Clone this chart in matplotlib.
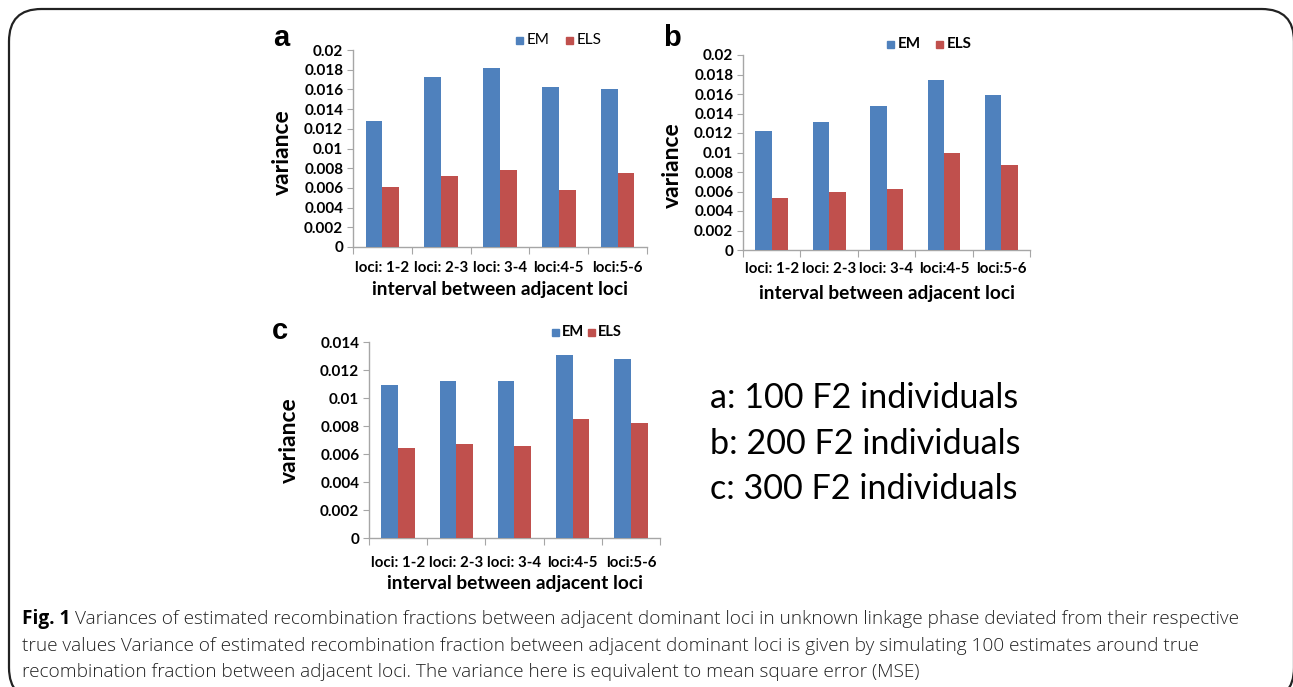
import matplotlib
matplotlib.use("Agg")
import matplotlib.pyplot as plt
import numpy as np
from matplotlib.patches import FancyBboxPatch

categories = ["loci: 1-2", "loci: 2-3", "loci: 3-4", "loci:4-5", "loci:5-6"]
em_a = [0.0128, 0.0173, 0.0182, 0.0162, 0.0160]
els_a = [0.0061, 0.0072, 0.0078, 0.0058, 0.0075]
em_b = [0.0122, 0.0131, 0.0148, 0.0174, 0.0159]
els_b = [0.0053, 0.0059, 0.0063, 0.0100, 0.0087]
em_c = [0.0109, 0.0112, 0.0112, 0.0131, 0.0128]
els_c = [0.0064, 0.0067, 0.0066, 0.0085, 0.0082]
yticks_ab = [0, 0.002, 0.004, 0.006, 0.008, 0.01, 0.012, 0.014, 0.016, 0.018, 0.02]
yticks_c = [0, 0.002, 0.004, 0.006, 0.008, 0.01, 0.012, 0.014]
ytick_labels_ab = ["0", "0.002", "0.004", "0.006", "0.008", "0.01", "0.012", "0.014", "0.016", "0.018", "0.02"]
ytick_labels_c = ["0", "0.002", "0.004", "0.006", "0.008", "0.01", "0.012", "0.014"]
series_names = ["EM", "ELS"]
side_notes = ["a: 100 F2 individuals", "b: 200 F2 individuals", "c: 300 F2 individuals"]

BLUE = "#4F81BD"
RED = "#C0504D"
GRAY = "#A6A6A6"
W, H = 1293, 687
FONT = ["Lato", "DejaVu Sans"]

fig = plt.figure(figsize=(W / 100, H / 100), dpi=100)

# Frame
frame = FancyBboxPatch((9 / W, 1 - 700 / H), (1294 - 9) / W, (700 - 9) / H,
                       boxstyle="round,pad=0,rounding_size=0.025",
                       transform=fig.transFigure, fill=False, edgecolor="#222222",
                       linewidth=1.6, mutation_aspect=W / H, clip_on=False)
fig.patches.append(frame)


def px_axes(x0, x1, y_top, y_bot):
    return fig.add_axes([x0 / W, 1 - y_bot / H, (x1 - x0) / W, (y_bot - y_top) / H])


def panel(x0, x1, y_top, y_bot, em, els, yticks, ylabels, ymax, letter, letter_xy,
          leg_x, leg_y, leg_bold, leg_fs, vlabel_xy, tick_y, xlabel_y):
    ax = px_axes(x0, x1, y_top, y_bot)
    n = len(categories)
    x = np.arange(n)
    bw = 1 / 3.5
    ax.bar(x - bw / 2, em, bw, color=BLUE, zorder=3)
    ax.bar(x + bw / 2, els, bw, color=RED, zorder=3)
    ax.set_xlim(-0.5, n - 0.5)
    ax.set_ylim(0, ymax)
    for s in ["top", "right"]:
        ax.spines[s].set_visible(False)
    for s in ["left", "bottom"]:
        ax.spines[s].set_color(GRAY)
        ax.spines[s].set_linewidth(1.0)
    ax.set_yticks(yticks)
    ax.set_yticklabels(ylabels, fontsize=11, fontweight="bold", family=FONT)
    ax.tick_params(axis="y", length=4, color=GRAY, pad=3)
    ax.set_xticks(np.arange(n + 1) - 0.5)
    ax.set_xticklabels([])
    ax.tick_params(axis="x", which="major", length=5, color=GRAY)
    trans = matplotlib.transforms.blended_transform_factory(ax.transData, fig.transFigure)
    for i, c in enumerate(categories):
        ax.text(i, 1 - tick_y / H, c, transform=trans, ha="center", va="center",
                fontsize=10.8, fontweight="bold", family=FONT)
    fig.text(((x0 + x1) / 2) / W, 1 - xlabel_y / H, "interval between adjacent loci",
             ha="center", va="center", fontsize=13.8, fontweight="bold", family=FONT)
    fig.text(vlabel_xy[0] / W, 1 - vlabel_xy[1] / H, "variance", rotation=90,
             ha="center", va="center", fontsize=16.5, fontweight="bold", family=FONT)
    fig.text(letter_xy[0] / W, 1 - letter_xy[1] / H, letter, ha="left", va="center",
             fontsize=21, fontweight="bold", family=["Liberation Sans", "DejaVu Sans"])
    fw = "bold" if leg_bold else "normal"
    for (sx, tx), name, col in zip(leg_x, series_names, [BLUE, RED]):
        fig.patches.append(plt.Rectangle((sx / W, 1 - (leg_y + 3.5) / H), 7 / W, 7 / H,
                                         transform=fig.transFigure, color=col))
        fig.text(tx / W, 1 - leg_y / H, name, ha="left", va="center", fontsize=leg_fs,
                 fontweight=fw, family=FONT)
    return ax


panel(353, 647, 50, 247, em_a, els_a, yticks_ab, ytick_labels_ab, 0.02, "a", (273, 38),
      [(516, 527), (566, 577)], 40, False, 11, (282, 152), 268, 290)
panel(743, 1030, 55, 250, em_b, els_b, yticks_ab, ytick_labels_ab, 0.02, "b", (663, 38),
      [(887, 898), (936, 947)], 44, True, 11, (672, 165), 269, 293)
panel(369, 660, 342, 538, em_c, els_c, yticks_c, ytick_labels_c, 0.014, "c", (272, 331),
      [(552, 562), (588, 598)], 332, True, 10.5, (289, 440), 563, 583)

for i, note in enumerate(side_notes):
    fig.text(710 / W, 1 - (398 + 45.5 * i) / H, note, ha="left", va="center",
             fontsize=24.6, family=FONT)

# caption
cap_font = ["Open Sans", "DejaVu Sans"]
cap_lines = [
    "Variances of estimated recombination fractions between adjacent dominant loci in unknown linkage phase deviated from their respective",
    "true values Variance of estimated recombination fraction between adjacent dominant loci is given by simulating 100 estimates around true",
    "recombination fraction between adjacent loci. The variance here is equivalent to mean square error (MSE)",
]
fs = 13.65
t = fig.text(22 / W, 1 - 619 / H, "Fig. 1", ha="left", va="center", fontsize=fs,
             fontweight="bold", family=cap_font)
fig.canvas.draw()
bb = t.get_window_extent()
fig.text((bb.x1 + 5) / W, 1 - 619 / H, cap_lines[0], ha="left", va="center", fontsize=fs,
         family=cap_font, fontweight="light", color="#222222")
fig.text(22 / W, 1 - 646 / H, cap_lines[1], ha="left", va="center", fontsize=fs,
         family=cap_font, fontweight="light", color="#222222")
fig.text(22 / W, 1 - 672 / H, cap_lines[2], ha="left", va="center", fontsize=fs,
         family=cap_font, fontweight="light", color="#222222")

fig.savefig("out.png", dpi=100)
